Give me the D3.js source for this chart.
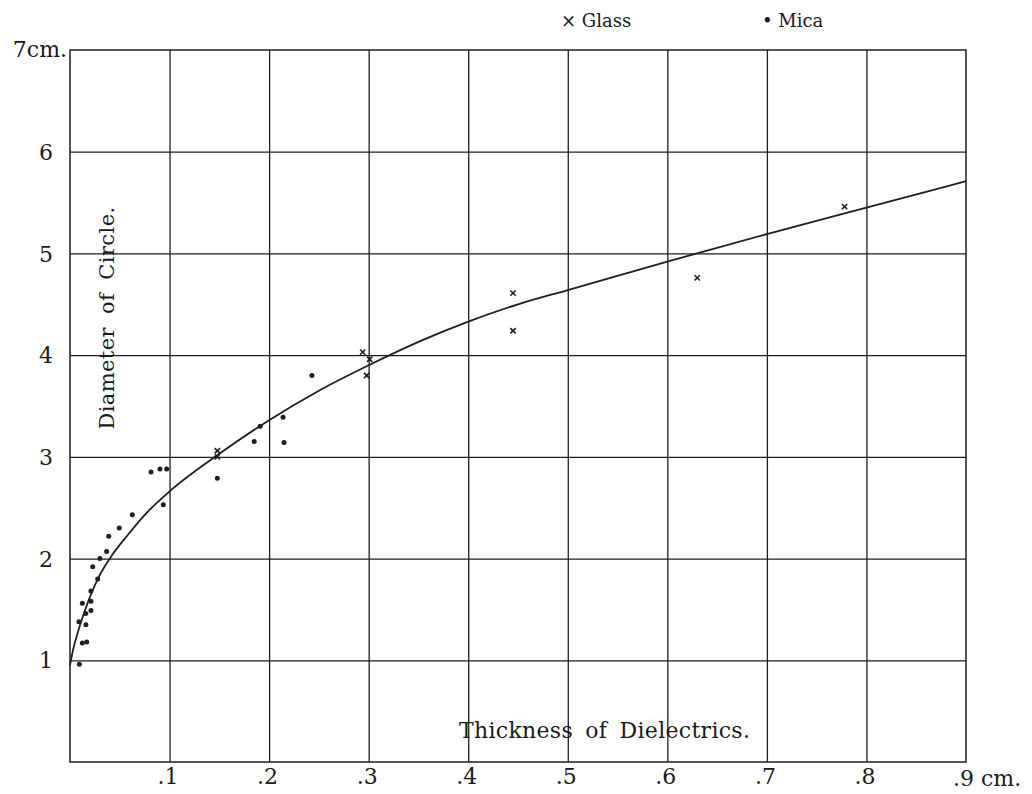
<!DOCTYPE html>
<html><head><meta charset="utf-8">
<script src="https://cdn.jsdelivr.net/npm/d3@7"></script>
<style>
body{margin:0;background:#fff;}
text{font-family:"DejaVu Serif","Liberation Serif",serif;fill:#1a1a1a;}
</style></head>
<body><svg id="c" width="1032" height="794"></svg>
<script>
// ---- data ----
const xTicks = [0.1,0.2,0.3,0.4,0.5,0.6,0.7,0.8];
const xTickLabels = [".1",".2",".3",".4",".5",".6",".7",".8"];
const yTicks = [1,2,3,4,5,6];
const yTickLabels = ["1","2","3","4","5","6"];

// fitted curve (thickness cm, diameter cm)
const curveX = [0.0,0.003,0.008,0.015,0.022,0.030,0.042,0.057,0.077,0.1,0.15,0.2,0.25,0.3,0.35,0.4,0.45,0.5,0.6,0.7,0.8,0.9];
const curveY = [0.95,1.10,1.28,1.49,1.67,1.84,2.03,2.22,2.45,2.66,3.03,3.36,3.65,3.90,4.13,4.33,4.50,4.64,4.92,5.19,5.45,5.71];

// Glass (x marks)
const glassX = [0.148,0.148,0.294,0.301,0.298,0.445,0.445,0.630,0.778];
const glassY = [3.00,3.06,4.03,3.96,3.80,4.61,4.24,4.76,5.46];

// Mica (dots)
const micaX = [0.0094,0.0124,0.0168,0.009,0.016,0.0158,0.021,0.0124,0.021,0.021,0.0278,0.0228,0.030,0.0368,0.0389,0.0495,0.0626,0.0937,0.0814,0.0904,0.0971,0.148,0.185,0.191,0.214,0.215,0.243];
const micaY = [0.96,1.17,1.18,1.38,1.35,1.46,1.49,1.56,1.58,1.68,1.80,1.92,2.00,2.07,2.22,2.30,2.43,2.53,2.85,2.88,2.88,2.79,3.15,3.30,3.39,3.14,3.80];

// ---- chart ----
const svg = d3.select("#c");
const x = d3.scaleLinear().domain([0,0.9]).range([70,966]);
const y = d3.scaleLinear().domain([0,7]).range([762,50]);
const ink = "#1e1e1e";

// grid via axes
const gx = svg.append("g").attr("transform",`translate(0,${y(0)})`)
  .call(d3.axisBottom(x).tickValues(xTicks).tickSizeInner(-(y(0)-y(7))).tickSizeOuter(0)
    .tickFormat((d,i)=>xTickLabels[i]).tickPadding(5));
gx.select(".domain").remove();
gx.selectAll("line").attr("stroke",ink).attr("stroke-width",1.3);
gx.selectAll("text").attr("font-size",22).attr("fill",ink).attr("dy","0.78em").attr("dx","-2");

const gy = svg.append("g").attr("transform",`translate(${x(0)},0)`)
  .call(d3.axisLeft(y).tickValues(yTicks).tickSizeInner(-(x(0.9)-x(0))).tickSizeOuter(0)
    .tickFormat((d,i)=>yTickLabels[i]).tickPadding(17));
gy.select(".domain").remove();
gy.selectAll("line").attr("stroke",ink).attr("stroke-width",1.3);
gy.selectAll("text").attr("font-size",22).attr("fill",ink).attr("dy","0.35em");

// frame
svg.append("rect").attr("x",x(0)).attr("y",y(7)).attr("width",x(0.9)-x(0)).attr("height",y(0)-y(7))
  .attr("fill","none").attr("stroke",ink).attr("stroke-width",1.5);

// extra labels
svg.append("text").attr("x",x(0)-3).attr("y",y(7)).attr("dy","0.3em").attr("text-anchor","end")
  .attr("font-size",22).attr("fill",ink).text("7cm.");
svg.append("text").attr("x",x(0.9)-13).attr("y",y(0)+24)
  .attr("font-size",22).attr("fill",ink).text(".9 cm.");

svg.append("text").attr("x",459).attr("y",738).attr("font-size",22).attr("fill",ink)
  .attr("word-spacing","5").attr("letter-spacing","0.3").text("Thickness of Dielectrics.");
svg.append("text").attr("transform","translate(114,318) rotate(-90)").attr("text-anchor","middle")
  .attr("font-size",21).attr("fill",ink).attr("word-spacing","6").attr("letter-spacing","0.4").text("Diameter of Circle.");

// legend
const lg = svg.append("g");
lg.append("text").attr("x",561).attr("y",27).attr("font-size",18).attr("fill",ink).text("× Glass");
lg.append("text").attr("x",762).attr("y",27).attr("font-size",18).attr("fill",ink).text("• Mica");

// curve
const pts = curveX.map((d,i)=>[d,curveY[i]]);
svg.append("path").datum(pts)
  .attr("d",d3.line().x(d=>x(d[0])).y(d=>y(d[1])).curve(d3.curveMonotoneX))
  .attr("fill","none").attr("stroke",ink).attr("stroke-width",1.8);

// mica dots
svg.append("g").selectAll("circle").data(micaX.map((d,i)=>[d,micaY[i]])).join("circle")
  .attr("cx",d=>x(d[0])).attr("cy",d=>y(d[1])).attr("r",2.5).attr("fill",ink);

// glass crosses
const sym = d3.symbol().type(d3.symbolX).size(20);
svg.append("g").selectAll("path").data(glassX.map((d,i)=>[d,glassY[i]])).join("path")
  .attr("transform",d=>`translate(${x(d[0])},${y(d[1])})`).attr("d",sym)
  .attr("fill","none").attr("stroke",ink).attr("stroke-width",1.6);
</script></body></html>
